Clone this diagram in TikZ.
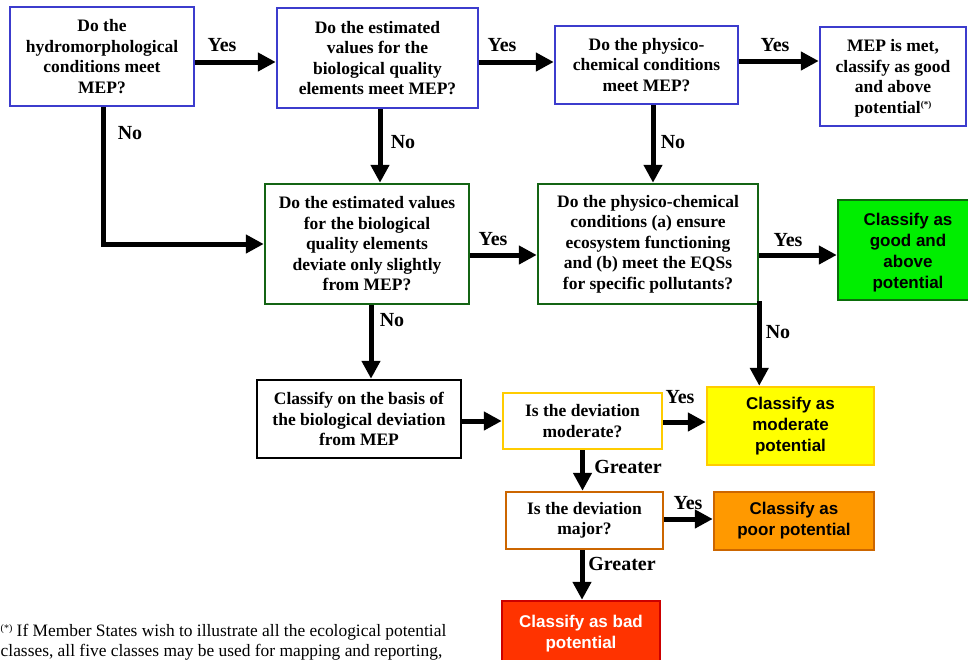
\documentclass[tikz,border=0pt]{standalone}
\usepackage{fontspec}
\setmainfont{Liberation Serif}
\newfontfamily\sansb{Liberation Sans}
\usetikzlibrary{arrows.meta}
\definecolor{blueb}{RGB}{60,60,205}
\definecolor{greenb}{RGB}{20,100,20}
\definecolor{gfill}{RGB}{0,238,0}
\definecolor{gborder}{RGB}{10,110,10}
\definecolor{yborder}{RGB}{255,204,0}
\definecolor{yfill}{RGB}{255,255,0}
\definecolor{oborder}{RGB}{204,102,0}
\definecolor{ofill}{RGB}{255,153,0}
\definecolor{rborder}{RGB}{204,0,0}
\definecolor{rfill}{RGB}{255,51,0}
\begin{document}
\begin{tikzpicture}[x=1pt,y=-1pt,
  qb/.style={draw, line width=2.5pt, fill=white, align=center, inner sep=0pt,
    font=\fontsize{17.5}{20.5}\selectfont\bfseries},
  cb/.style={draw, line width=2.5pt, align=center, inner sep=0pt,
    font=\fontsize{17}{21}\selectfont\sansb\bfseries},
  arr/.style={line width=5pt, -{Triangle[length=18pt,width=18pt]}},
  lab/.style={font=\fontsize{20}{20}\selectfont\bfseries, inner sep=0pt},
  foot/.style={font=\fontsize{17.4}{20}\selectfont, inner sep=0pt, anchor=base west}]
\useasboundingbox (0,0) rectangle (968,659);
\clip (0,0) rectangle (968,659);

% top row
\node[qb, draw=blueb, minimum width=184pt, minimum height=99pt] (A) at (102,56.5)
  {Do the\\hydromorphological\\conditions meet\\MEP?};
\node[qb, draw=blueb, minimum width=201pt, minimum height=100pt] (B) at (377.5,58)
  {Do the estimated\\values for the\\biological quality\\elements meet MEP?};
\node[qb, draw=blueb, minimum width=183pt, minimum height=78pt] (C) at (646.5,65)
  {Do the physico-\\chemical conditions\\meet MEP?};
\node[qb, draw=blueb, minimum width=146pt, minimum height=99pt, text depth=0pt] (D) at (893,76.5)
  {\rule{0pt}{8pt}MEP is met,\\classify as good\\and above\\potential\raisebox{6pt}{\fontsize{9}{9}\selectfont(*)}};

% middle row
\node[qb, draw=greenb, minimum width=204pt, minimum height=120pt] (E) at (367,244)
  {Do the estimated values\\for the biological\\quality elements\\deviate only slightly\\from MEP?};
\node[qb, draw=greenb, minimum width=220pt, minimum height=120pt] (F) at (648,244)
  {Do the physico-chemical\\conditions (a) ensure\\ecosystem functioning\\and (b) meet the EQSs\\for specific pollutants?};
\node[cb, draw=gborder, fill=gfill, minimum width=140pt, minimum height=100pt] (G) at (908,250)
  {\rule{0pt}{18pt}Classify as\\good and\\above\\potential};

% lower part
\node[qb, draw=black, minimum width=204pt, minimum height=78pt] (H) at (359,419)
  {Classify on the basis of\\the biological deviation\\from MEP};
\node[qb, draw=yborder, minimum width=159pt, minimum height=56pt] (I) at (582.5,421)
  {Is the deviation\\moderate?};
\node[cb, draw=yborder, fill=yfill, minimum width=167pt, minimum height=78pt] (J) at (790.5,426)
  {Classify as\\moderate\\potential};
\node[qb, draw=oborder, minimum width=157pt, minimum height=57pt] (K) at (584.5,520.5)
  {Is the deviation\\major?};
\node[cb, draw=oborder, fill=ofill, minimum width=160pt, minimum height=58pt] (L) at (794,521)
  {Classify as\\poor potential};
\node[cb, draw=rborder, fill=rfill, text=white, minimum width=158pt, minimum height=66pt] (M) at (581,634)
  {Classify as bad\\potential};

% connectors
\draw[arr] ([yshift=-5.5pt]A.east) -- ([yshift=-5.5pt]A.east -| B.west);
\draw[arr] ([yshift=-4pt]B.east) -- ([yshift=-4pt]B.east -| C.west);
\draw[arr] ([yshift=4pt]C.east) -- ([yshift=4pt]C.east -| D.west);
\draw[arr] ([xshift=1pt]A.south) |- (E.west);
\draw[arr] ([xshift=2.5pt]B.south) -- ([xshift=2.5pt]B.south |- E.north);
\draw[arr] ([xshift=6.5pt]C.south) -- ([xshift=6.5pt]C.south |- F.north);
\draw[arr] ([yshift=-11pt]E.east) -- ([yshift=-11pt]F.west);
\draw[arr] ([yshift=-11pt]F.east) -- ([yshift=-11pt]F.east -| G.west);
\draw[arr] ([yshift=4pt]F.south east) -- (F.south east |- J.north);
\draw[arr] ([xshift=4pt]E.south) -- ([xshift=4pt]E.south |- H.north);
\draw[arr] (H.east |- I.west) -- (I.west);
\draw[arr] ([yshift=-1pt]I.east) -- ([yshift=-1pt]I.east -| J.west);
\draw[arr] (I.south) -- (I.south |- K.north);
\draw[arr] ([yshift=1.5pt]K.east) -- ([yshift=1.5pt]K.east -| L.west);
\draw[arr] ([xshift=-2.5pt]K.south) -- ([xshift=-2.5pt]K.south |- M.north);

% labels
\node[lab] (y1) at (222,45) {Yes};
\node[lab] (y2) at (502,45) {Yes};
\node[lab] (y3) at (775,45) {Yes};
\node[lab] (n1) at (130,133) {No};
\node[lab] (n2) at (403,142) {No};
\node[lab] (n3) at (673,142) {No};
\node[lab] (y4) at (493,239) {Yes};
\node[lab] (y5) at (788,240) {Yes};
\node[lab] (n4) at (778,332) {No};
\node[lab] (n5) at (392,320) {No};
\node[lab] (y6) at (680,397) {Yes};
\node[lab] (g1) at (628,467) {Greater};
\node[lab] (y7) at (688,503) {Yes};
\node[lab] (g2) at (622,564) {Greater};

% footnote
\node[foot] (f1) at (0.5,636) {\raisebox{5pt}{\fontsize{10}{10}\selectfont(*)} If Member States wish to illustrate all the ecological potential};
\node[foot] (f2) at (0.5,656) {classes, all five classes may be used for mapping and reporting,};
\end{tikzpicture}
\end{document}
